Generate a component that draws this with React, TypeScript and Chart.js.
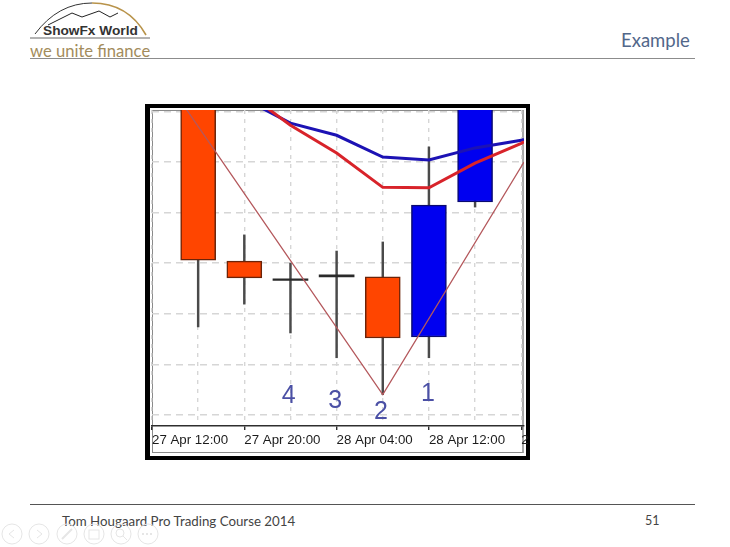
import React, { useEffect, useRef } from "react";
import { Chart, registerables } from "chart.js";

Chart.register(...registerables);

const timeLabels = ["27 Apr 12:00", "", "27 Apr 20:00", "", "28 Apr 04:00", "", "28 Apr 12:00", "", "2"];
const candleX = [1, 2, 3, 4, 5, 6, 7];
const opens = [68, 30.4, 26.9, 27.7, 27.3, 15.4, 42.1];
const closes = [30.6, 27.1, 26.6, 27.3, 15.2, 41.5, 68];
const highs = [70, 35.6, 30, 32.4, 34.2, 53, 70];
const lows = [17.4, 21.9, 16.2, 11.3, 4, 11.3, 41.1];

const blueMaX = [2, 3, 4, 5, 6, 7, 8, 8.06];
const blueMa = [62.5, 57.7, 55.3, 51, 50.4, 52.8, 54.3, 54.5];
const redMaX = [2, 3, 4, 5, 6, 7, 8, 8.06];
const redMa = [64, 57.3, 51.8, 45, 44.9, 49.8, 53.7, 54];
const zigzagX = [0, 5, 8.06];
const zigzag = [70.3, 4, 50];

const waveLabels = ["4", "3", "2", "1"];
const waveX = [2.96, 3.97, 4.96, 5.98];
const waveY = [3.75, 2.8, 0.45, 4.15];

const navCentres = [12, 39, 67, 94, 121, 148];

const wavePlugin = {
  id: "waveLabels",
  afterDatasetsDraw(chart: any) {
    const { ctx, scales } = chart;
    ctx.save();
    ctx.font = '25px "Liberation Sans"';
    ctx.fillStyle = "#4b50a5";
    ctx.textAlign = "center";
    ctx.textBaseline = "middle";
    waveLabels.forEach((t, i) => {
      ctx.fillText(t, scales.x.getPixelForValue(waveX[i]), scales.y.getPixelForValue(waveY[i]));
    });
    ctx.restore();
  },
};

const pts = (xs: number[], ys: number[]) => xs.map((x, i) => ({ x, y: ys[i] }));

function candleBars(test: (i: number) => boolean) {
  return candleX
    .map((x, i) => ({ x, y: [opens[i], closes[i]], i }))
    .filter((d) => test(d.i))
    .map(({ x, y }) => ({ x, y }));
}

const isDoji = (i: number) => Math.abs(opens[i] - closes[i]) < 1;

export default function App() {
  const ref = useRef<HTMLCanvasElement>(null);
  useEffect(() => {
    const chart = new Chart(ref.current!, {
      type: "bar",
      plugins: [wavePlugin],
      data: {
        datasets: [
          {
            type: "line", label: "Zigzag", data: pts(zigzagX, zigzag), borderColor: "#b4585c",
            borderWidth: 1.3, pointRadius: 0, tension: 0, order: 0,
          },
          {
            type: "line", label: "Slow MA", data: pts(redMaX, redMa), borderColor: "#d8232a",
            borderWidth: 3, pointRadius: 0, tension: 0, order: 0,
          },
          {
            type: "line", label: "Fast MA", data: pts(blueMaX, blueMa), borderColor: "#1c12b4",
            borderWidth: 3, pointRadius: 0, tension: 0, order: 1,
          },
          {
            label: "Falling", data: candleBars((i) => !isDoji(i) && closes[i] < opens[i]),
            backgroundColor: "#ff4500", borderColor: "#6b2308", borderWidth: 1.5,
            borderSkipped: false, barThickness: 35, grouped: false, order: 2,
          },
          {
            label: "Rising", data: candleBars((i) => !isDoji(i) && closes[i] > opens[i]),
            backgroundColor: "#0000f0", borderColor: "#0a0a70", borderWidth: 1.5,
            borderSkipped: false, barThickness: 35, grouped: false, order: 2,
          },
          {
            label: "Doji", data: candleBars(isDoji),
            backgroundColor: "#2a2a2a", borderWidth: 0, barThickness: 35, grouped: false, order: 2,
          },
          {
            label: "Range", data: candleX.map((x, i) => ({ x, y: [lows[i], highs[i]] })),
            backgroundColor: "#4a4a4a", borderWidth: 0, barThickness: 1.8, grouped: false, order: 3,
          },
        ] as any,
      },
      options: {
        animation: false,
        responsive: false,
        devicePixelRatio: 1,
        layout: { padding: { left: 152, right: 206, top: 110, bottom: 0 } },
        plugins: { legend: { display: false }, title: { display: false }, tooltip: { enabled: false } },
        scales: {
          x: {
            type: "linear",
            min: 0,
            max: 8.06,
            offset: false,
            afterFit: (s: any) => { s.height = 121; },
            afterBuildTicks: (s: any) => {
              s.ticks = timeLabels.map((_, i) => ({ value: i }));
            },
            border: { display: true, color: "#2e2e2e", width: 1.5, dash: [4, 5] },
            grid: {
              offset: false,
              color: "#d6d6d6",
              lineWidth: 1.4,
              tickLength: 4,
              tickColor: (c: any) => (timeLabels[c.index] ? "#2e2e2e" : "rgba(0,0,0,0)"),
            },
            ticks: {
              autoSkip: false,
              maxRotation: 0,
              minRotation: 0,
              align: "start",
              padding: 2,
              color: "#1c1c1c",
              font: { family: '"Liberation Sans"', size: 13.3 },
              callback: (_: any, i: number) => timeLabels[i],
            },
          } as any,
          y: {
            type: "linear",
            min: -2.2,
            max: 60.3,
            afterFit: (s: any) => { s.width = 0; },
            afterBuildTicks: (s: any) => {
              s.ticks = [0, 10, 20, 30, 40, 50, 60].map((value) => ({ value }));
            },
            border: { display: false, dash: [7, 5] },
            grid: { color: "#d6d6d6", lineWidth: 1.4, drawTicks: false },
            ticks: { display: false },
          } as any,
        },
      },
    });
    return () => chart.destroy();
  }, []);

  const abs = (s: React.CSSProperties): React.CSSProperties => ({ position: "absolute", whiteSpace: "nowrap", ...s });

  return (
    <div style={{ position: "absolute", left: 0, top: 0, width: 730, height: 547, overflow: "hidden", background: "#fff" }}>
      {/* slide chrome */}
      <div style={abs({ left: 30, top: 58, width: 665, height: 1, background: "#8c8c8c" })} />
      <div style={abs({ left: 30, top: 504, width: 665, height: 1, background: "#555" })} />
      <div style={abs({ left: 621, top: 29, font: '18.5px Lato, sans-serif', color: "#52678a" })}>Example</div>
      <div style={abs({ left: 62, top: 513, font: '13.3px Lato, sans-serif', color: "#444" })}>Tom Hougaard Pro Trading Course 2014</div>
      <div style={abs({ left: 645, top: 513, font: '12.5px Lato, sans-serif', color: "#444" })}>51</div>

      {/* logo */}
      <svg width={160} height={58} style={abs({ left: 0, top: 0 })}>
        <path d="M35 34 Q58 3 92 3" fill="none" stroke="#333" strokeWidth={1} />
        <path d="M92 3 Q128 3 146 35" fill="none" stroke="#b8934a" strokeWidth={1.6} />
        <polyline points="48,25 72,13 82,17 99,11 110,17 118,13" fill="none" stroke="#222" strokeWidth={1} />
        <line x1={30} y1={38} x2={150} y2={38} stroke="#666" strokeWidth={1} />
      </svg>
      <div style={abs({ left: 43, top: 23, font: 'bold 13.7px "Liberation Sans"', color: "#333" })}>ShowFx World</div>
      <div style={abs({ left: 30, top: 41, font: '16.6px Lato, sans-serif', color: "#a38c5c" })}>we unite finance</div>

      {/* nav icons */}
      <svg width={170} height={30} style={abs({ left: 0, top: 519 })} fill="none" stroke="#e6e6e6" strokeWidth={1}>
        {navCentres.map((cx) => (
          <circle key={cx} cx={cx} cy={15} r={10} />
        ))}
        <polyline points="14,11 9,15 14,19" />
        <polyline points="37,11 42,15 37,19" />
        <line x1={62} y1={20} x2={72} y2={10} strokeWidth={2} />
        <rect x={89} y={11} width={10} height={9} />
        <circle cx={120} cy={14} r={4} />
        <line x1={123} y1={17} x2={127} y2={21} />
        <line x1={142} y1={15} x2={154} y2={15} strokeWidth={2} strokeDasharray="2 2" />
      </svg>

      {/* MT4 picture frame */}
      <div style={abs({ left: 145, top: 104, width: 385, height: 356, background: "#000" })} />
      <div style={abs({ left: 150, top: 108, width: 376, height: 348, background: "#fff" })} />
      <div style={abs({ left: 152, top: 110, width: 372, height: 343, boxSizing: "border-box", border: "1px solid #8a8a8a", borderRight: "2px solid #a8a8a8" })} />
      <canvas ref={ref} width={730} height={547} style={abs({ left: 0, top: 0, display: "block", filter: "blur(0.35px)" })} />
    </div>
  );
}
